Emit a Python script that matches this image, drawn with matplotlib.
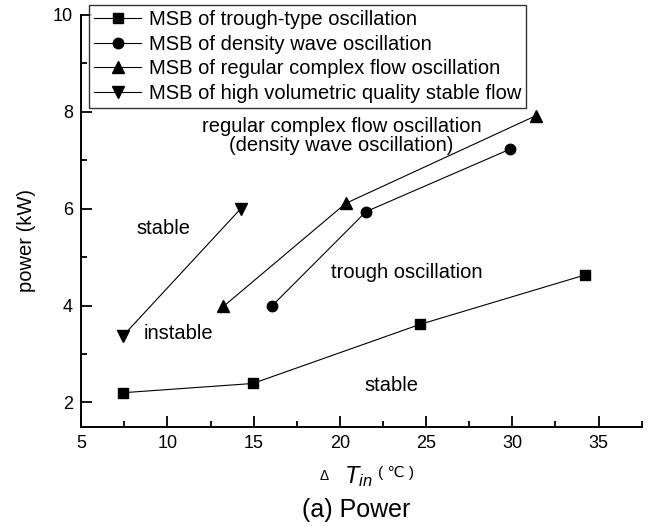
import matplotlib
matplotlib.use('Agg')
import matplotlib.pyplot as plt
from matplotlib.ticker import MultipleLocator

plt.rcParams['font.family'] = ['Liberation Sans', 'DejaVu Sans']
plt.rcParams['mathtext.fontset'] = 'custom'
plt.rcParams['mathtext.it'] = 'Liberation Sans:italic'
plt.rcParams['mathtext.rm'] = 'Liberation Sans'

# marginal stability boundaries, inlet subcooling (C) vs heating power (kW)
trough_dt = [7.44, 14.95, 24.64, 34.2]
trough_p = [2.20, 2.39, 3.61, 4.63]

density_dt = [16.08, 21.52, 29.87]
density_p = [4.00, 5.94, 7.23]

regular_dt = [13.24, 20.34, 31.36]
regular_p = [3.98, 6.11, 7.92]

highq_dt = [7.44, 14.25]
highq_p = [3.38, 6.00]

labels = ['MSB of trough-type oscillation',
          'MSB of density wave oscillation',
          'MSB of regular complex flow oscillation',
          'MSB of high volumetric quality stable flow']

fig = plt.figure(figsize=(6.53, 5.26), dpi=100)
ax = fig.add_axes([0.1244, 0.189, 0.8583, 0.7825])

lw = 0.8
ax.plot(trough_dt, trough_p, '-s', color='k', lw=lw, ms=7, label=labels[0])
ax.plot(density_dt, density_p, '-o', color='k', lw=lw, ms=7.5, label=labels[1])
ax.plot(regular_dt, regular_p, '-^', color='k', lw=lw, ms=8.5, label=labels[2])
ax.plot(highq_dt, highq_p, '-v', color='k', lw=lw, ms=8.5, label=labels[3])

ax.set_xlim(5, 37.5)
ax.set_ylim(1.5, 10)
ax.xaxis.set_major_locator(MultipleLocator(5))
ax.xaxis.set_minor_locator(MultipleLocator(2.5))
ax.yaxis.set_major_locator(MultipleLocator(2))
ax.yaxis.set_minor_locator(MultipleLocator(1))
ax.set_yticks([2, 4, 6, 8, 10])
ax.tick_params(which='both', direction='in', width=1.3, labelsize=13)
ax.tick_params(which='major', length=8, pad=6)
ax.tick_params(which='minor', length=4.5)
for side in ['top', 'right']:
    ax.spines[side].set_visible(False)
for side in ['left', 'bottom']:
    ax.spines[side].set_linewidth(1.4)

# region names
fs = 14.5
ax.text(9.77, 5.6, 'stable', fontsize=fs, ha='center', va='center')
ax.text(10.63, 3.43, 'instable', fontsize=fs, ha='center', va='center')
ax.text(23.9, 4.68, 'trough oscillation', fontsize=fs, ha='center', va='center')
ax.text(22.96, 2.35, 'stable', fontsize=fs, ha='center', va='center')
ax.text(20.1, 7.5, 'regular complex flow oscillation\n(density wave oscillation)',
        fontsize=fs, ha='center', va='center', linespacing=1.0)

leg = ax.legend(loc='upper left', bbox_to_anchor=(0.0145, 1.024),
                borderaxespad=0, fontsize=fs, frameon=True, fancybox=False,
                edgecolor='k', numpoints=1, handlelength=2.3,
                handletextpad=0.4, labelspacing=0.28, borderpad=0.25)
leg.get_frame().set_linewidth(1.0)

# axis titles
fig.text(27 / 653, 1 - 240 / 526, 'power (kW)', rotation=90, fontsize=14.5,
         ha='center', va='center')
fig.text(324 / 653, 1 - 476 / 526, r'$\Delta$', fontsize=10, ha='center', va='center')
fig.text(358 / 653, 1 - 477 / 526, r'$T_{in}$', fontsize=17, ha='center', va='center')
fig.text(396 / 653, 1 - 473 / 526, '( ℃ )', fontsize=11, ha='center', va='center')
fig.text(356 / 653, 1 - 510 / 526, '(a) Power', fontsize=18, ha='center', va='center')

fig.savefig('out.png', dpi=100)
